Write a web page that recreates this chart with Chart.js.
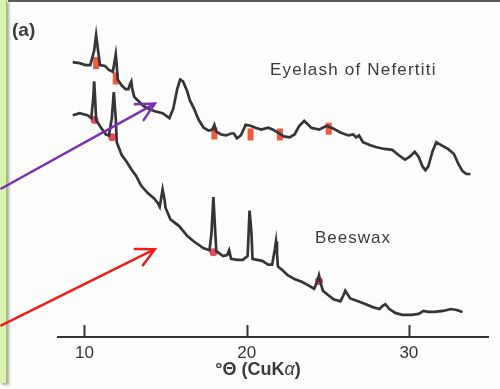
<!DOCTYPE html>
<html>
<head>
<meta charset="utf-8">
<script src="https://cdn.jsdelivr.net/npm/chart.js@4.4.1/dist/chart.umd.min.js"></script>
<style>
  html, body { margin: 0; padding: 0; background: #fdfdfc; }
  #wrap { position: relative; width: 500px; height: 389px; overflow: hidden; }
  #strip {
    position: absolute; left: 0; top: 0; width: 6px; height: 383px;
    background: #d8f3ad; border-right: 1.5px solid #98cf62;
    box-shadow: 2px 2px 3px rgba(0, 0, 0, 0.35);
  }
  #topline { position: absolute; left: 8px; right: 0; top: 0; height: 2px; background: #5a5a5a; }
  canvas { position: absolute; left: 0; top: 0; }
</style>
</head>
<body>
<div id="wrap">
  <div id="strip"></div>
  <div id="topline"></div>
  <canvas id="xrd" width="500" height="389"></canvas>
</div>
<script>
// degrees 2theta and intensity (arbitrary units)
const eyelashTheta = [9.28, 9.70, 10.06, 10.36, 10.60, 10.72, 10.84, 10.96, 11.27, 11.51, 11.75, 11.87, 11.93, 11.99, 12.05, 12.29, 12.53, 12.71, 12.83, 12.89, 12.95, 13.07, 13.31, 13.61, 13.92, 14.34, 14.82, 15.24, 15.48, 15.72, 15.90, 16.08, 16.33, 16.51, 16.75, 17.05, 17.35, 17.65, 17.89, 18.01, 18.13, 18.43, 18.73, 19.04, 19.22, 19.40, 19.64, 19.94, 20.24, 20.54, 20.90, 21.33, 21.63, 21.93, 22.29, 22.65, 22.95, 23.25, 23.55, 23.80, 23.98, 24.46, 24.94, 25.36, 25.78, 26.27, 26.57, 26.75, 26.93, 27.17, 27.59, 27.95, 28.49, 28.98, 29.34, 29.76, 30.06, 30.36, 30.60, 30.84, 31.02, 31.20, 31.45, 31.69, 31.99, 32.41, 32.77, 33.07, 33.31, 33.55, 33.80];
const eyelashCounts = [285, 284, 282, 282, 297, 313, 297, 282, 281, 277, 275, 287, 293, 282, 267, 261, 257, 257, 263, 265, 257, 249, 245, 240, 237, 234, 232, 227, 237, 257, 267, 265, 255, 245, 237, 225, 217, 214, 215, 220, 213, 210, 209, 211, 211, 206, 209, 220, 219, 217, 215, 217, 215, 212, 208, 207, 210, 219, 224, 220, 217, 215, 219, 216, 212, 209, 210, 207, 209, 202, 199, 197, 195, 194, 189, 184, 187, 192, 187, 177, 173, 177, 192, 202, 199, 195, 190, 179, 172, 169, 169];

const beeswaxTheta = [9.28, 9.70, 10.18, 10.42, 10.54, 10.60, 10.66, 10.72, 11.02, 11.33, 11.51, 11.69, 11.81, 11.93, 11.99, 12.29, 12.59, 12.89, 13.19, 13.49, 13.92, 14.28, 14.52, 14.64, 14.76, 14.82, 14.94, 15.00, 15.30, 15.84, 16.33, 16.75, 17.35, 17.71, 17.83, 17.95, 18.07, 18.13, 18.55, 18.80, 18.92, 19.04, 19.40, 19.76, 20.06, 20.12, 20.18, 20.30, 20.36, 20.66, 20.96, 21.33, 21.57, 21.75, 21.81, 21.87, 21.93, 22.23, 22.53, 22.95, 23.43, 23.86, 24.16, 24.34, 24.46, 24.58, 24.70, 25.06, 25.36, 25.78, 25.96, 26.08, 26.27, 26.39, 26.87, 27.35, 27.77, 28.19, 28.37, 28.55, 28.80, 29.16, 29.58, 30.18, 30.60, 30.90, 31.20, 31.57, 32.11, 32.59, 32.95, 33.31];
const beeswaxCounts = [230, 232, 230, 227, 247, 265, 247, 225, 217, 210, 209, 227, 254, 227, 202, 189, 182, 174, 167, 157, 149, 144, 139, 135, 147, 153, 142, 134, 122, 115, 105, 99, 92, 90, 107, 145, 107, 89, 84, 85, 90, 81, 80, 80, 84, 107, 131, 107, 81, 80, 79, 75, 75, 92, 99, 87, 73, 69, 64, 60, 57, 53, 50, 57, 64, 55, 48, 43, 39, 37, 43, 48, 43, 40, 37, 34, 31, 29, 32, 34, 29, 25, 23, 23, 24, 27, 26, 26, 27, 29, 28, 26];

// red highlighted reflections
const eyelashMarkTheta = [10.72, 11.93, 18.01, 20.24, 22.05, 25.06];
const eyelashMarkCounts = [284, 268, 211, 210, 210, 216];
const beeswaxMarkTheta = [10.62, 11.71, 17.95, 24.46];
const beeswaxMarkCounts = [225, 207, 88, 58];

const thetaTicks = [10, 20, 30];

// arrows: [start theta, start count, tip theta, tip count]
const purpleArrow = [4.88, 154, 14.34, 242];
const redArrow = [4.88, 12, 14.34, 91];

const FONT = "'Liberation Sans', Arial, sans-serif";
const INK = '#363434';

const pts = (xs, ys) => xs.map((x, i) => ({ x: x, y: ys[i] }));

function arrow(ctx, x0, y0, x1, y1, color) {
  const back = Math.atan2(y0 - y1, x0 - x1);
  const len = 20, spread = 0.47;
  ctx.save();
  ctx.strokeStyle = color;
  ctx.lineWidth = 2.5;
  ctx.lineCap = 'round';
  ctx.beginPath();
  ctx.moveTo(x0, y0);
  ctx.lineTo(x1, y1);
  ctx.moveTo(x1 + len * Math.cos(back + spread), y1 + len * Math.sin(back + spread));
  ctx.lineTo(x1, y1);
  ctx.lineTo(x1 + len * Math.cos(back - spread), y1 + len * Math.sin(back - spread));
  ctx.stroke();
  ctx.restore();
}

const decorations = {
  id: 'decorations',
  afterDraw(chart) {
    const ctx = chart.ctx;
    const xs = chart.scales.x, ys = chart.scales.y;
    const bottom = chart.chartArea.bottom;

    // tick marks pointing up into the plot
    ctx.save();
    ctx.strokeStyle = INK;
    ctx.lineWidth = 2;
    thetaTicks.forEach(v => {
      const px = Math.round(xs.getPixelForValue(v)) + 0.5;
      ctx.beginPath();
      ctx.moveTo(px, bottom);
      ctx.lineTo(px, bottom - 12);
      ctx.stroke();
    });

    // labels
    ctx.fillStyle = '#3a3a3a';
    ctx.textBaseline = 'middle';
    ctx.font = 'bold 19px ' + FONT;
    ctx.fillText('(a)', 12, 31);

    ctx.font = '17px ' + FONT;
    ctx.letterSpacing = '1.2px';
    ctx.fillText('Eyelash of Nefertiti', 270, 70);
    ctx.letterSpacing = '1px';
    ctx.fillText('Beeswax', 315, 238);
    ctx.letterSpacing = '0px';

    // axis title  °Θ (CuKα)
    const parts = [['°Θ (CuK', 'bold 18px ' + FONT], ['α', 'italic 18px ' + FONT], [')', 'bold 18px ' + FONT]];
    let w = 0;
    parts.forEach(p => { ctx.font = p[1]; w += ctx.measureText(p[0]).width; });
    let tx = 258 - w / 2;
    parts.forEach(p => { ctx.font = p[1]; ctx.fillText(p[0], tx, 370); tx += ctx.measureText(p[0]).width; });
    ctx.restore();

    arrow(ctx, xs.getPixelForValue(purpleArrow[0]), ys.getPixelForValue(purpleArrow[1]),
      xs.getPixelForValue(purpleArrow[2]), ys.getPixelForValue(purpleArrow[3]), '#7a2fb0');
    arrow(ctx, xs.getPixelForValue(redArrow[0]), ys.getPixelForValue(redArrow[1]),
      xs.getPixelForValue(redArrow[2]), ys.getPixelForValue(redArrow[3]), '#ee1c1c');
  }
};

new Chart(document.getElementById('xrd'), {
  type: 'line',
  data: {
    datasets: [
      {
        label: 'Eyelash of Nefertiti',
        data: pts(eyelashTheta, eyelashCounts),
        borderColor: INK, borderWidth: 2.7, pointRadius: 0, tension: 0, order: 1
      },
      {
        label: 'Beeswax',
        data: pts(beeswaxTheta, beeswaxCounts),
        borderColor: INK, borderWidth: 2.7, pointRadius: 0, tension: 0, order: 1
      },
      {
        label: 'eyelash marks',
        data: pts(eyelashMarkTheta, eyelashMarkCounts),
        showLine: false, pointStyle: 'line', rotation: 90, pointRadius: 6,
        pointBorderWidth: 6, pointBorderColor: 'rgba(236, 72, 46, 0.9)', order: 2
      },
      {
        label: 'beeswax marks',
        data: pts(beeswaxMarkTheta, beeswaxMarkCounts),
        showLine: false, pointStyle: 'circle', pointRadius: 4, pointBorderWidth: 0,
        pointBackgroundColor: 'rgba(232, 40, 70, 0.85)', order: 2
      }
    ]
  },
  options: {
    responsive: false,
    animation: false,
    events: [],
    layout: { padding: { left: 58, right: 2, top: 0, bottom: 0 } },
    plugins: { legend: { display: false }, tooltip: { enabled: false } },
    scales: {
      x: {
        type: 'linear', min: 8.37, max: 34.88,
        grid: { display: false, drawTicks: false },
        border: { display: true, color: INK, width: 2 },
        ticks: { color: '#333', font: { family: FONT, size: 17 }, padding: 6 },
        afterBuildTicks: s => { s.ticks = thetaTicks.map(v => ({ value: v })); },
        afterFit: s => { s.height = 52; }
      },
      y: { display: false, min: 0, max: 337 }
    }
  },
  plugins: [decorations]
});
</script>
</body>
</html>
